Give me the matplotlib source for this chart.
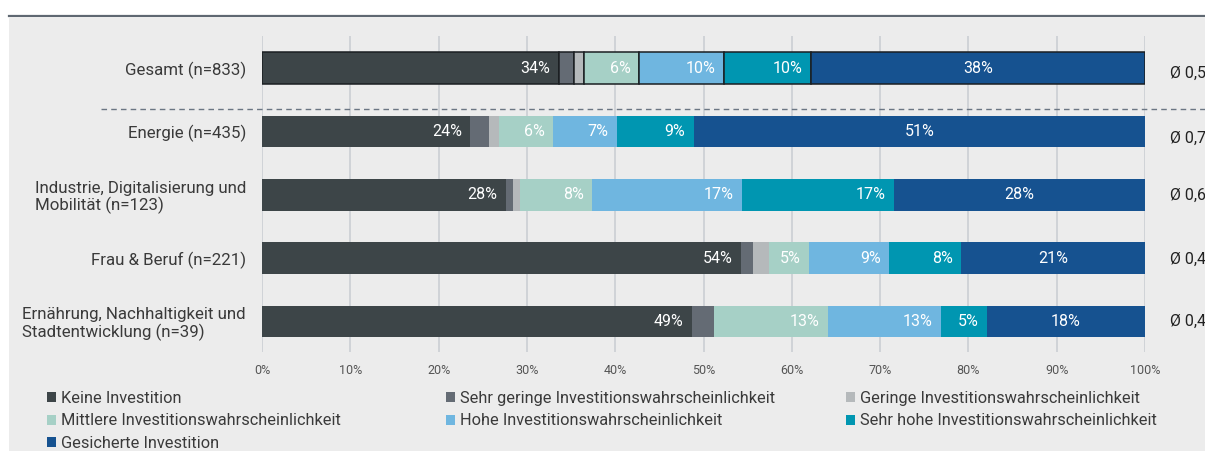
import numpy as np
import matplotlib.pyplot as plt
from matplotlib.patches import Rectangle, Patch
from matplotlib.lines import Line2D
import matplotlib.transforms as mtransforms

plt.rcParams['font.family'] = ['Roboto', 'DejaVu Sans']

# data (shares in %)
categories = ["Gesamt (n=833)",
              "Energie (n=435)",
              "Industrie, Digitalisierung und\nMobilität (n=123)",
              "Frau & Beruf (n=221)",
              "Ernährung, Nachhaltigkeit und\nStadtentwicklung (n=39)"]
series_names = ["Keine Investition",
                "Sehr geringe Investitionswahrscheinlichkeit",
                "Geringe Investitionswahrscheinlichkeit",
                "Mittlere Investitionswahrscheinlichkeit",
                "Hohe Investitionswahrscheinlichkeit",
                "Sehr hohe Investitionswahrscheinlichkeit",
                "Gesicherte Investition"]
keine = [33.6, 23.6, 27.6, 54.3, 48.7]
sehr_gering = [1.7, 2.1, 0.8, 1.3, 2.5]
gering = [1.2, 1.1, 0.8, 1.8, 0.0]
mittel = [6.2, 6.2, 8.2, 4.6, 12.9]
hoch = [9.6, 7.2, 17.0, 9.0, 12.8]
sehr_hoch = [9.9, 8.7, 17.2, 8.2, 5.2]
gesichert = [37.8, 51.1, 28.4, 20.8, 17.9]
averages = ["Ø 0,5", "Ø 0,7", "Ø 0,6", "Ø 0,4", "Ø 0,4"]

colors = ["#3d4548", "#646b74", "#b5b9bb", "#a6d0c6", "#6fb6e0", "#0096b1", "#165290"]
values = np.array([keine, sehr_gering, gering, mittel, hoch, sehr_hoch, gesichert])

fig = plt.figure(figsize=(12.05, 4.51), dpi=100)
fig.patch.set_facecolor("white")

# grey panel + top rule
fig.patches.append(Rectangle((9 / 1205, 0), 1, 1 - 17 / 451, transform=fig.transFigure,
                             facecolor="#ececec", edgecolor="none", zorder=-5))
fig.lines.append(Line2D([9 / 1205, 1], [1 - 15.5 / 451] * 2, transform=fig.transFigure,
                        color="#5f6872", lw=1.6, zorder=-5))

ax = fig.add_axes([262 / 1205, 1 - 352 / 451, 883 / 1205, 316 / 451])
ax.set_facecolor("none")

y = np.arange(len(categories))
left = np.zeros(len(categories))
for i, (name, col) in enumerate(zip(series_names, colors)):
    vals = values[i]
    bars = ax.barh(y, vals, left=left, height=0.5, color=col, label=name, zorder=2)
    # the "Gesamt" bar is outlined
    bars[0].set_edgecolor("#1b1f22")
    bars[0].set_linewidth(1.1)
    for j, v in enumerate(vals):
        if v >= 4:
            if i == len(series_names) - 1:
                ax.text(left[j] + v / 2, y[j], f"{round(v)}%", ha="center", va="center",
                        color="white", fontsize=11.5, zorder=3)
            else:
                ax.annotate(f"{round(v)}%", (left[j] + v, y[j]), xytext=(-6, 0),
                            textcoords="offset points", ha="right", va="center",
                            color="white", fontsize=11.5, zorder=3)
    left += vals

ax.set_xlim(0, 100)
ax.set_ylim(4.48, -0.505)
ax.set_xticks(np.arange(0, 101, 10))
ax.set_xticklabels([f"{t}%" for t in range(0, 101, 10)], fontsize=9, color="#555555")
ax.set_yticks(y)
ax.set_yticklabels(categories, fontsize=12.2, color="#3a3a3a", ha="right",
                   multialignment="left", linespacing=1.08)
ax.tick_params(axis="both", length=0)
ax.tick_params(axis="x", pad=9)
ax.tick_params(axis="y", pad=11.5)
for s in ax.spines.values():
    s.set_visible(False)
ax.xaxis.grid(True, color="#cbced3", lw=1.2)
ax.set_axisbelow(True)

# dashed separator below "Gesamt"
trans = mtransforms.blended_transform_factory(ax.transAxes, ax.transData)
ax.plot([-0.1823, 1.07], [0.64, 0.64], transform=trans, color="#6b7683", lw=1,
        linestyle=(0, (4, 3)), clip_on=False, zorder=1)

# averages on the right
offsets = [5, 7, 1, 1, 0]
for j, txt in enumerate(averages):
    ax.annotate(txt, (1.028, y[j]), xycoords=trans, xytext=(0, -offsets[j] * 0.72),
                textcoords="offset points", ha="left", va="center", fontsize=11.5,
                color="#222222", annotation_clip=False)

# legend: three columns placed separately
handles = [Patch(facecolor=c, edgecolor="none") for c in colors]
columns = [[0, 3, 6], [1, 4], [2, 5]]
col_x = [47, 446, 846]
for cx, idx in zip(col_x, columns):
    fig.legend([handles[k] for k in idx], [series_names[k] for k in idx],
               loc="upper left", bbox_to_anchor=(cx / 1205, 1 - 391 / 451),
               frameon=False, fontsize=11.8, handlelength=0.55, handleheight=0.55,
               handletextpad=0.3, labelspacing=0.45, borderpad=0, borderaxespad=0,
               labelcolor="#3a3a3a")

fig.savefig("out.png", dpi=100)
